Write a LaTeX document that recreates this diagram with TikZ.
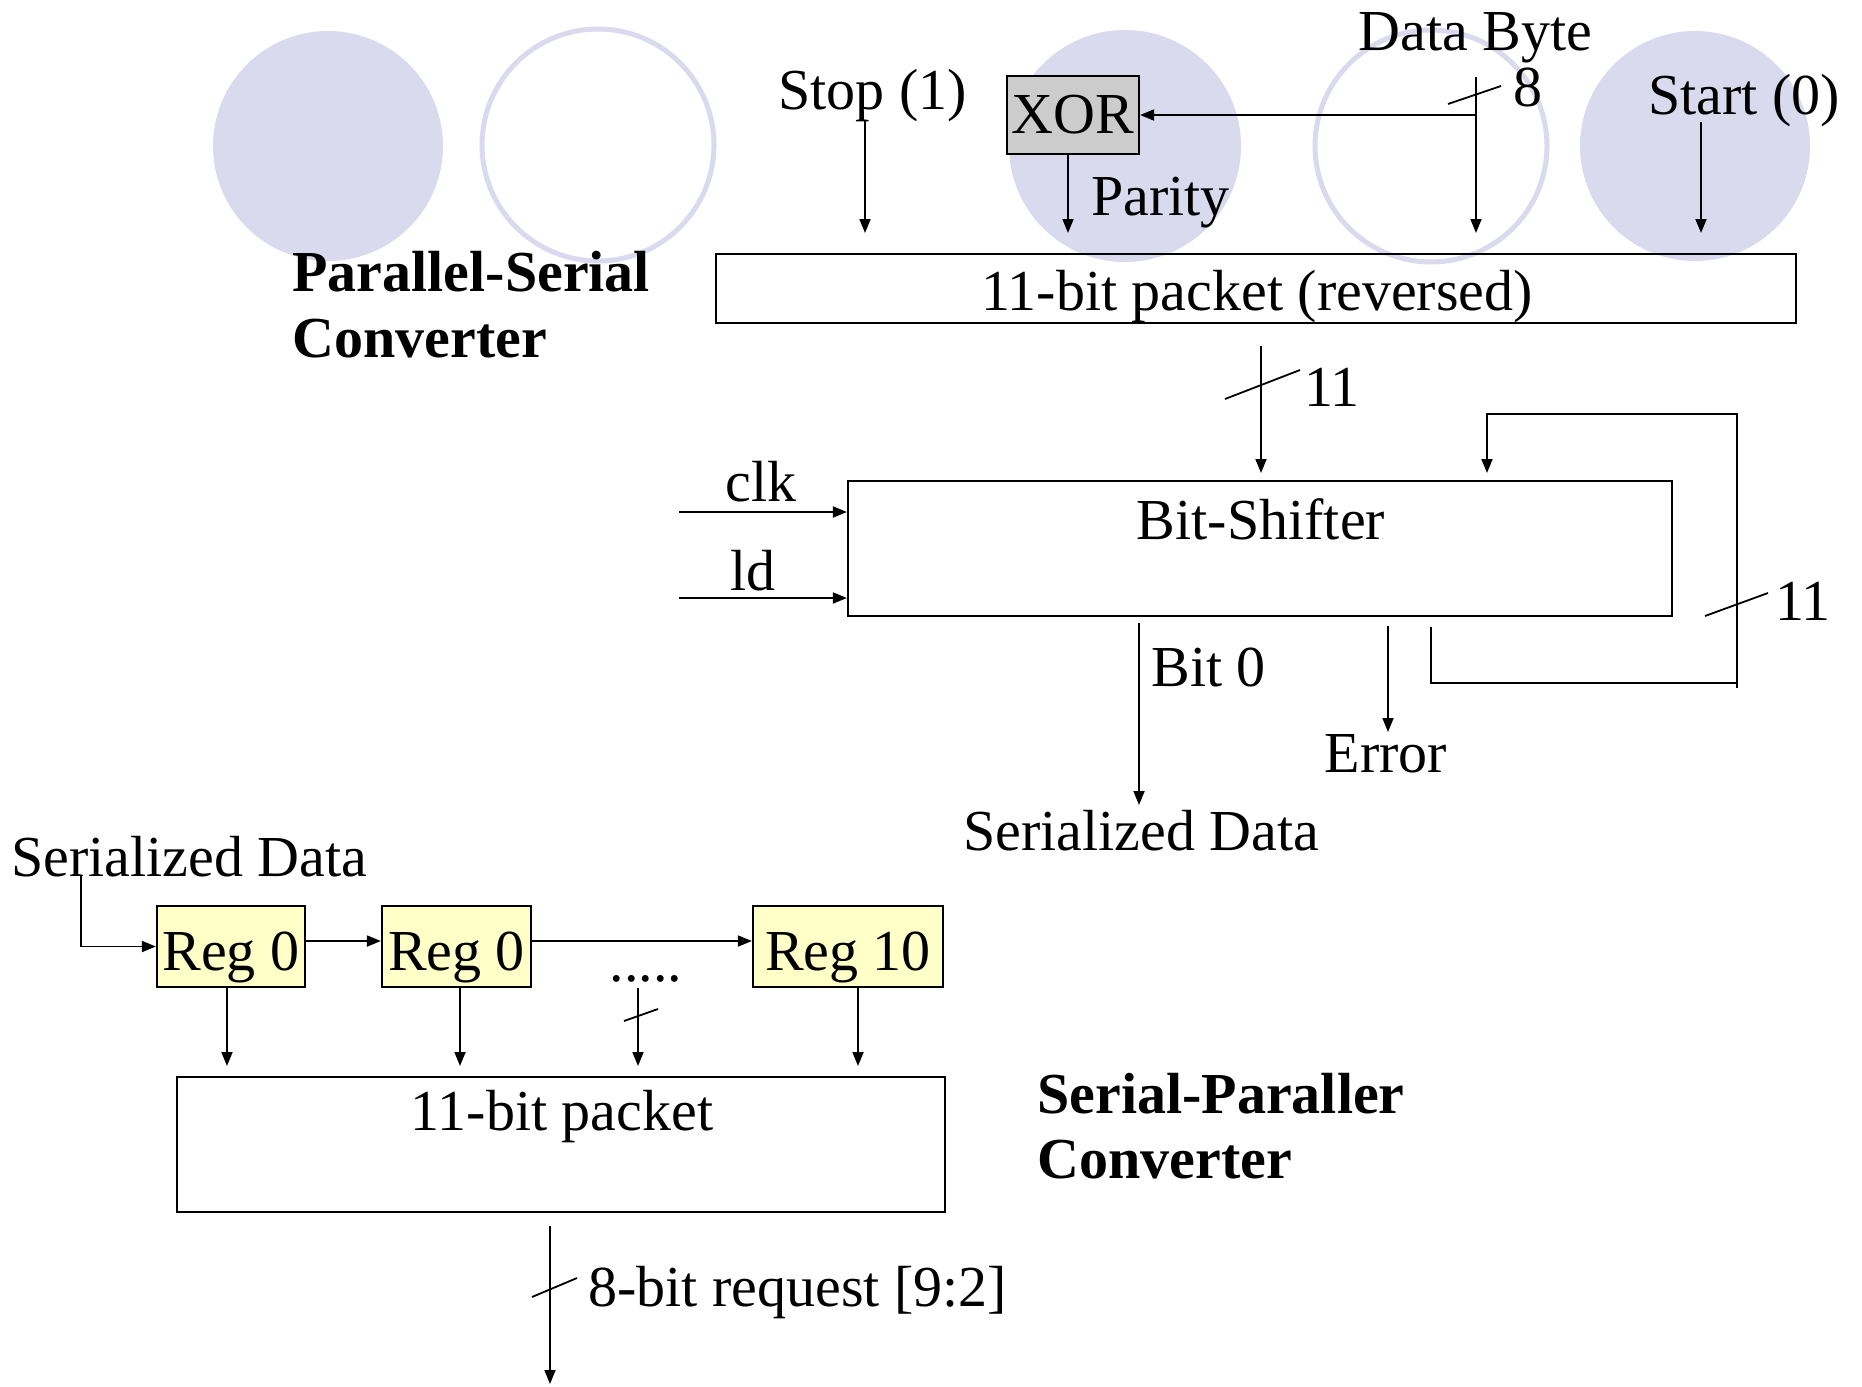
\documentclass[tikz,border=0pt]{standalone}
\usepackage{fontspec}
\setmainfont{Liberation Serif}
\usetikzlibrary{arrows.meta}
\definecolor{lav}{RGB}{218,218,238}
\definecolor{regy}{RGB}{255,255,200}
\definecolor{xorg}{RGB}{204,204,204}
\begin{document}
\begin{tikzpicture}[x=0.5pt,y=-0.5pt,
  txt/.style={font=\fontsize{29}{33}\selectfont, inner sep=0pt},
  btxt/.style={font=\fontsize{29}{33}\selectfont\bfseries, inner sep=0pt, align=left},
  box/.style={draw, line width=1.1pt, inner sep=0pt},
  wire/.style={line width=0.9pt},
  arr/.style={wire, -{Triangle[length=7pt,width=5.5pt]}},
]
\useasboundingbox[fill=white] (0,0) rectangle (1862,1386);

% background circles
\fill[lav] (328,146) circle[radius=115];
\draw[lav, line width=2.5pt] (598,145) circle[radius=116];
\fill[lav] (1125,146) circle[radius=116];
\draw[lav, line width=2.5pt] (1431,146) circle[radius=116];
\fill[lav] (1695,146) circle[radius=115];

% titles
\node[btxt, anchor=base west] (t1) at (292,291) {Parallel-Serial};
\node[btxt, anchor=base west] (t1b) at (292,357) {Converter};
\node[btxt, anchor=base west] (t2) at (1037,1113) {Serial-Paraller};
\node[btxt, anchor=base west] (t2b) at (1037,1178) {Converter};

% ---------- Parallel-Serial part ----------
\node[box, minimum width=540pt, minimum height=34.5pt] (pkt) at (1256,288.5) {};
\node[txt, anchor=base] (pkttxt) at (1257,310) {11-bit packet (reversed)};

\node[box, fill=xorg, minimum width=66pt, minimum height=39pt] (xor) at (1073,115) {\fontsize{29}{33}\selectfont XOR};

\node[txt, anchor=base west] (stop) at (778,110) {Stop (1)};
\node[txt, anchor=base west] (start) at (1648,115) {Start (0)};
\node[txt, anchor=base west] (dbyte) at (1358,51) {Data Byte};
\node[txt, anchor=base west] (parity) at (1091,215) {Parity};
\node[txt, anchor=base west] (eight) at (1513,106) {8};

\coordinate (stopA) at (865,121);
\coordinate (stopB) at (865,233);
\draw[arr] (stopA) -- (stopB);

\coordinate (parB) at (1068,233);
\draw[arr] (xor.south -| parB) -- (parB);

\coordinate (dbA) at (1476,77);
\coordinate (dbB) at (1476,233);
\draw[arr] (dbA) -- (dbB);
\coordinate (dbJ) at (1476,115);
\draw[arr] (dbJ) -- (xor.east |- dbJ);
\coordinate (s8a) at (1448,104);
\coordinate (s8b) at (1501,86);
\draw[wire] (s8a) -- (s8b);

\coordinate (stA) at (1701,122);
\coordinate (stB) at (1701,233);
\draw[arr] (stA) -- (stB);

% Bit shifter
\node[box, minimum width=412pt, minimum height=67.5pt] (bs) at (1260,548.5) {};
\node[txt, anchor=base] (bstxt) at (1261,539) {Bit-Shifter};

\coordinate (inA) at (1261,346);
\coordinate (inB) at (1261,473);
\draw[arr] (inA) -- (inB);
\coordinate (s11a) at (1225,399);
\coordinate (s11b) at (1300,370);
\draw[wire] (s11a) -- (s11b);
\node[txt, anchor=base] (l11) at (1332,406) {11};

% feedback loop
\coordinate (fbA) at (1431,627);
\coordinate (fbC) at (1737,683);
\coordinate (fbD) at (1737,688);
\coordinate (fbE) at (1737,414);
\coordinate (fbF) at (1487,414);
\coordinate (fbG) at (1487,473);
\draw[wire] (fbA) |- (fbC);
\draw[arr] (fbD) -- (fbE) -- (fbF) -- (fbG);
\coordinate (s11c) at (1705,616);
\coordinate (s11d) at (1768,593);
\draw[wire] (s11c) -- (s11d);
\node[txt, anchor=base] (l11b) at (1803,620) {11};

% clk / ld
\coordinate (clkA) at (679,512);
\draw[arr] (clkA) -- (bs.west |- clkA);
\node[txt, anchor=base] (clk) at (761,501) {clk};
\coordinate (ldA) at (679,598);
\draw[arr] (ldA) -- (bs.west |- ldA);
\node[txt, anchor=base] (ld) at (753,590) {ld};

% outputs
\coordinate (b0A) at (1139,623);
\coordinate (b0B) at (1139,805);
\draw[arr] (b0A) -- (b0B);
\node[txt, anchor=base west] (bit0) at (1151,686) {Bit 0};
\node[txt, anchor=base] (serout) at (1141,850) {Serialized Data};

\coordinate (erA) at (1388,626);
\coordinate (erB) at (1388,732);
\draw[arr] (erA) -- (erB);
\node[txt, anchor=base] (err) at (1386,772) {Error};

% ---------- Serial-Parallel part ----------
\node[txt, anchor=base west] (serin) at (11,876) {Serialized Data};

\node[box, fill=regy, minimum width=74pt, minimum height=40.5pt] (r1) at (231,946.5) {};
\node[box, fill=regy, minimum width=74.5pt, minimum height=40.5pt] (r2) at (456.5,946.5) {};
\node[box, fill=regy, minimum width=95pt, minimum height=40.5pt] (r10) at (848,946.5) {};
\node[txt, anchor=base] (r1t) at (231,970) {Reg 0};
\node[txt, anchor=base] (r2t) at (456.5,970) {Reg 0};
\node[txt, anchor=base] (r10t) at (848,970) {Reg 10};
\node[txt, anchor=base] (dots) at (646,981) {.....};

\coordinate (sdA) at (81,875);
\draw[arr] (sdA) |- (r1.west);
\coordinate (ych) at (0,941);
\draw[arr] (r1.east |- ych) -- (r2.west |- ych);
\draw[arr] (r2.east |- ych) -- (r10.west |- ych);

\node[box, minimum width=384pt, minimum height=67.5pt] (pk2) at (561,1144.5) {};
\node[txt, anchor=base] (pk2t) at (562,1130) {11-bit packet};

\coordinate (d1) at (227,1066);
\coordinate (d2) at (460,1066);
\coordinate (d3) at (638,1066);
\coordinate (d3a) at (638,988);
\coordinate (d4) at (858,1066);
\draw[arr] (r1.south -| d1) -- (d1);
\draw[arr] (r2.south -| d2) -- (d2);
\draw[arr] (d3a) -- (d3);
\draw[arr] (r10.south -| d4) -- (d4);
\coordinate (s3a) at (624,1021);
\coordinate (s3b) at (658,1009);
\draw[wire] (s3a) -- (s3b);

\coordinate (oA) at (550,1226);
\coordinate (oB) at (550,1384);
\draw[arr] (oA) -- (oB);
\coordinate (s8c) at (532,1297);
\coordinate (s8d) at (577,1278);
\draw[wire] (s8c) -- (s8d);
\node[txt, anchor=base west] (req) at (588,1306) {8-bit request [9:2]};
\end{tikzpicture}
\end{document}
